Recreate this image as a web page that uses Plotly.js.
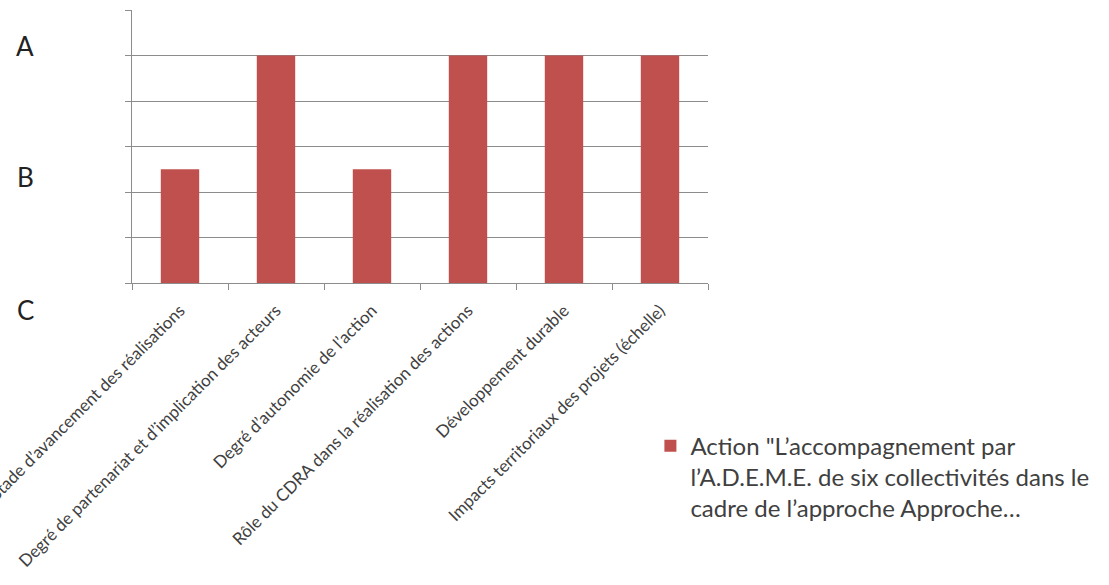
<!DOCTYPE html>
<html>
<head>
<meta charset="utf-8">
<script src="https://cdn.plot.ly/plotly-3.0.1.min.js"></script>
<style>html,body{margin:0;padding:0;background:#fff;}#chart{width:1109px;height:585px;}</style>
</head>
<body>
<div id="chart"></div>
<script>
const categories = [
  "Stade d’avancement des réalisations",
  "Degré de partenariat et d’implication des acteurs",
  "Degré d’autonomie de l’action",
  "Rôle du CDRA dans la réalisation des actions",
  "Développement durable",
  "Impacts territoriaux des projets (échelle)"
];
const values = [2.5, 5, 2.5, 5, 5, 5];
const seriesName = "Action \"L’accompagnement par<br>l’A.D.E.M.E. de six collectivités dans le<br>cadre de l’approche Approche…";
const levelLabels = ["A", "B", "C"];
const levelPositions = [0.867, 0.39, -0.1];

const trace = {
  type: "bar",
  x: categories,
  y: values,
  name: seriesName,
  marker: {color: "#C0504D"},
  showlegend: true,
  hoverinfo: "x+y"
};

const annotations = levelLabels.map((t, i) => ({
  text: t, xref: "paper", yref: "paper",
  x: -0.185, y: levelPositions[i], xanchor: "center", yanchor: "middle",
  showarrow: false,
  font: {family: "Lato, sans-serif", size: 26, color: "#222"}
}));

const layout = {
  width: 1109, height: 585,
  margin: {l: 132, r: 401, t: 10, b: 302},
  paper_bgcolor: "#fff", plot_bgcolor: "#fff",
  bargap: 0.6,
  showlegend: true,
  legend: {
    x: 0.9, y: -0.515, xanchor: "left", yanchor: "top",
    valign: "top",
    itemwidth: 30,
    font: {family: "Lato, sans-serif", size: 24, color: "#404040"},
    bgcolor: "rgba(0,0,0,0)"
  },
  xaxis: {
    type: "category",
    tickangle: -45,
    tickson: "boundaries",
    ticks: "outside", ticklen: 6, tickcolor: "#8c8c8c",
    ticklabelstandoff: 10,
    showline: true, linecolor: "#8c8c8c", linewidth: 1,
    showgrid: false,
    tickfont: {family: "Lato, sans-serif", size: 17, color: "#404040"},
    fixedrange: true
  },
  yaxis: {
    range: [0, 6], dtick: 1,
    showticklabels: false,
    ticks: "outside", ticklen: 6, tickcolor: "#8c8c8c",
    showgrid: true, gridcolor: "#8c8c8c", gridwidth: 1,
    showline: true, linecolor: "#8c8c8c", linewidth: 1,
    zeroline: false,
    fixedrange: true
  },
  annotations: annotations
};

Plotly.newPlot("chart", [trace], layout, {displayModeBar: false, staticPlot: true});
</script>
</body>
</html>
